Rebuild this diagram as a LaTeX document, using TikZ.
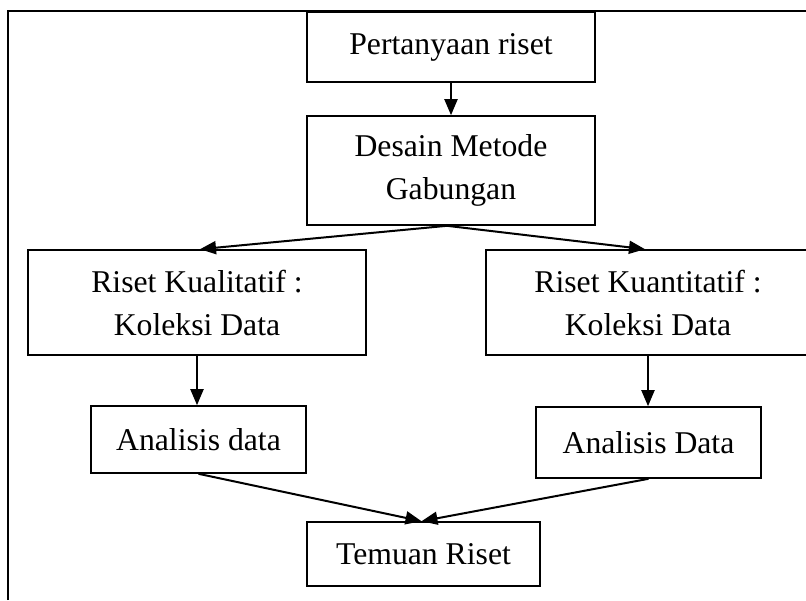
\documentclass[tikz,border=0pt]{standalone}
\usepackage{fontspec}
\setmainfont{Liberation Serif}
\usetikzlibrary{arrows.meta}
\begin{document}
\begin{tikzpicture}[x=1pt,y=-1pt,
  box/.style={draw=black,line width=1.6pt,rectangle,inner sep=0pt,align=center,
    font=\fontsize{31.7}{43}\selectfont},
  conn/.style={draw=black,line width=2pt,-{Triangle[length=16pt,width=13pt]}}]
\useasboundingbox (0,0) rectangle (806,600);
\fill[white] (0,0) rectangle (806,600);
\coordinate (f1) at (8,600);
\coordinate (f2) at (8,11);
\coordinate (f3) at (806,11);
\draw[line width=1.6pt] (f1) -- (f2) -- (f3);
\node[box,minimum width=288pt,minimum height=70pt] (b1) at (451,47) {Pertanyaan riset};
\node[box,minimum width=288pt,minimum height=109pt] (b2) at (451,170.5) {Desain Metode\\Gabungan};
\node[box,minimum width=338pt,minimum height=105pt] (b3) at (197,302.5) {Riset Kualitatif :\\Koleksi Data};
\node[box,minimum width=324pt,minimum height=105pt] (b4) at (648,302.5) {Riset Kuantitatif :\\Koleksi Data};
\node[box,minimum width=215pt,minimum height=67pt] (b5) at (198.5,439.5) {Analisis data};
\node[box,minimum width=225pt,minimum height=71pt] (b6) at (648.5,442.5) {Analisis Data};
\node[box,minimum width=233pt,minimum height=64pt] (b7) at (423.5,554) {Temuan Riset};
\coordinate (split) at ([xshift=-4pt]b2.south);
\coordinate (join) at ([xshift=-2pt]b7.north);
\draw[conn] (b1.south) -- (b2.north);
\draw[conn] (split) -- ([xshift=3pt]b3.north);
\draw[conn] (split) -- ([xshift=-3pt]b4.north);
\draw[conn] (b3.south) -- (b3.south |- b5.north);
\draw[conn] (b4.south) -- (b4.south |- b6.north);
\draw[conn] (b5.south) -- (join);
\draw[conn] (b6.south) -- (join);
\end{tikzpicture}
\end{document}
